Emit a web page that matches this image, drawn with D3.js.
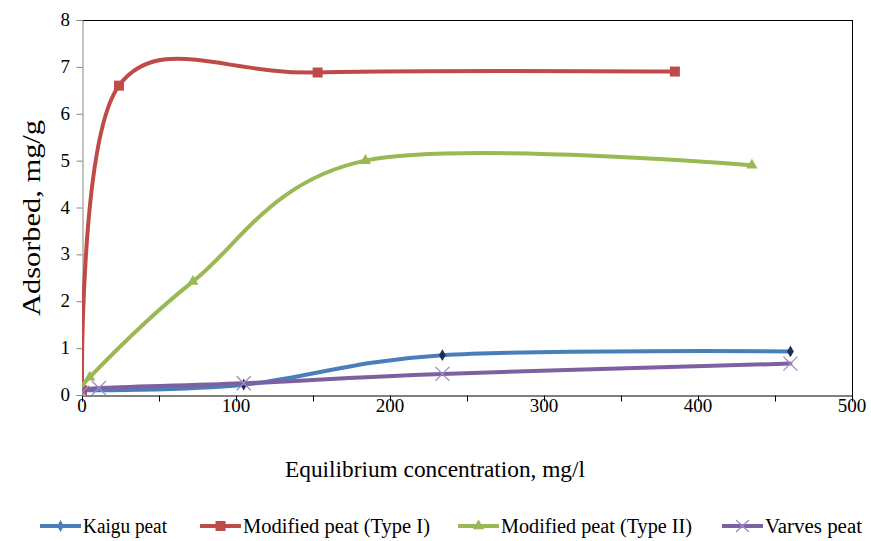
<!DOCTYPE html>
<html><head><meta charset="utf-8">
<script src="https://cdn.jsdelivr.net/npm/d3@7"></script>
<style>body{margin:0;background:#fff} text{font-family:"Liberation Serif","Times New Roman",serif;}</style>
</head><body>
<script>
const seriesNames = ["Kaigu peat", "Modified peat (Type I)", "Modified peat (Type II)", "Varves peat"];
const kaiguX = [0, 105, 234, 460];
const kaiguY = [0.1, 0.22, 0.85, 0.93];
const typeIX = [0, 24, 153, 385];
const typeIY = [0.1, 6.6, 6.88, 6.9];
const typeIIX = [0, 5, 72, 184, 435];
const typeIIY = [0.0, 0.38, 2.42, 5.0, 4.9];
const varvesX = [0, 11, 105, 234, 460];
const varvesY = [0.05, 0.15, 0.25, 0.45, 0.67];
const xTicks = [0, 100, 200, 300, 400, 500];
const yTicks = [0, 1, 2, 3, 4, 5, 6, 7, 8];
const colors = ["#4A7EBB", "#BE4B48", "#98B954", "#7D60A0"];

const FONT = "Liberation Serif, Times New Roman, serif";
const W = 871, H = 541;
const svg = d3.select("body").append("svg").attr("width", W).attr("height", H)
  .attr("font-family", FONT);
const x = d3.scaleLinear().domain([0, 500]).range([82, 852]);
const y = d3.scaleLinear().domain([0, 8]).range([395, 20]);

// frame
svg.append("line").attr("x1", 82).attr("x2", 852).attr("y1", 20.5).attr("y2", 20.5).attr("stroke", "#000").attr("stroke-width", 1);
svg.append("line").attr("x1", 852.5).attr("x2", 852.5).attr("y1", 20).attr("y2", 401).attr("stroke", "#000").attr("stroke-width", 1);

// x axis
const xAxis = svg.append("g").attr("transform", "translate(0,395.5)")
  .call(d3.axisBottom(x).tickValues(d3.range(0, 501, 50)).tickSize(6).tickFormat(""));
xAxis.select(".domain").attr("stroke", "#000");
xAxis.selectAll(".tick line").attr("stroke", "#000");
svg.append("g").selectAll("text").data(xTicks).join("text")
  .attr("font-family", FONT)
  .attr("x", d => x(d)).attr("y", 412).attr("text-anchor", "middle")
  .attr("font-size", 19).text(d => d);

// y axis
const yAxis = svg.append("g").attr("transform", "translate(82.5,0)")
  .call(d3.axisLeft(y).tickValues(yTicks).tickSize(6).tickFormat(""));
yAxis.select(".domain").attr("stroke", "#868686");
yAxis.selectAll(".tick line").attr("stroke", "#868686");
svg.append("g").selectAll("text").data(yTicks).join("text")
  .attr("font-family", FONT)
  .attr("x", 70).attr("y", d => y(d) + 6).attr("text-anchor", "end")
  .attr("font-size", 19).text(d => d);

// titles
svg.append("text").attr("x", 435).attr("y", 477).attr("text-anchor", "middle")
  .attr("font-family", FONT)
  .attr("font-size", 23).attr("textLength", 300).attr("lengthAdjust", "spacingAndGlyphs")
  .text("Equilibrium concentration, mg/l");
svg.append("text").attr("transform", "translate(40,218) rotate(-90)").attr("text-anchor", "middle")
  .attr("font-family", FONT)
  .attr("font-size", 25).attr("textLength", 196).attr("lengthAdjust", "spacingAndGlyphs")
  .text("Adsorbed, mg/g");

// clip
svg.append("clipPath").attr("id", "clip").append("rect").attr("x", 82).attr("y", 0).attr("width", 771).attr("height", 396);

const series = [
  {xs: kaiguX, ys: kaiguY, m: "diamond"},
  {xs: typeIX, ys: typeIY, m: "square"},
  {xs: typeIIX, ys: typeIIY, m: "triangle"},
  {xs: varvesX, ys: varvesY, m: "x"}
];
const line = d3.line().x(d => x(d[0])).y(d => y(d[1])).curve(d3.curveCatmullRom.alpha(0));
const plot = svg.append("g").attr("clip-path", "url(#clip)");

function marker(g, type, cx, cy, color) {
  if (type === "square") {
    g.append("rect").attr("x", cx - 5).attr("y", cy - 5).attr("width", 10).attr("height", 10).attr("fill", color);
  } else if (type === "triangle") {
    g.append("path").attr("d", d3.symbol(d3.symbolTriangle, 55)()).attr("transform", `translate(${cx},${cy})`).attr("fill", color);
  } else if (type === "diamond") {
    g.append("path").attr("d", d3.symbol(d3.symbolDiamond, 40)()).attr("transform", `translate(${cx},${cy})`).attr("fill", "#1b2f55");
  } else {
    g.append("path").attr("d", `M${cx-7},${cy-7}L${cx+7},${cy+7}M${cx-7},${cy+7}L${cx+7},${cy-7}`)
      .attr("stroke", "#9a8bc8").attr("stroke-width", 1.3).attr("fill", "none");
  }
}

series.forEach((s, i) => {
  const pts = s.xs.map((v, j) => [v, s.ys[j]]);
  plot.append("path").datum(pts).attr("d", line).attr("fill", "none")
    .attr("stroke", colors[i]).attr("stroke-width", 4).attr("stroke-linecap", "round");
  pts.forEach(p => marker(plot, s.m, x(p[0]), y(p[1]), colors[i]));
});

// legend
const legX = [40, 200, 458, 722];
const legTextLen = [84, 187, 191, 97];
seriesNames.forEach((n, i) => {
  const g = svg.append("g");
  g.append("line").attr("x1", legX[i]).attr("x2", legX[i] + 41).attr("y1", 526).attr("y2", 526)
    .attr("stroke", colors[i]).attr("stroke-width", 4);
  const m = series[i].m;
  if (m === "diamond") {
    g.append("path").attr("d", d3.symbol(d3.symbolDiamond, 40)()).attr("transform", `translate(${legX[i]+20.5},526)`).attr("fill", colors[i]);
  } else if (m === "x") {
    g.append("path").attr("d", `M${legX[i]+14},520L${legX[i]+27},532M${legX[i]+14},532L${legX[i]+27},520`)
      .attr("stroke", "#9a8bc8").attr("stroke-width", 1.3);
  } else {
    marker(g, m, legX[i] + 20.5, 526, colors[i]);
  }
  g.append("text").attr("x", legX[i] + 43).attr("y", 533).attr("font-size", 20)
    .attr("font-family", FONT)
    .attr("textLength", legTextLen[i]).attr("lengthAdjust", "spacingAndGlyphs").text(n);
});
</script>
</body></html>
